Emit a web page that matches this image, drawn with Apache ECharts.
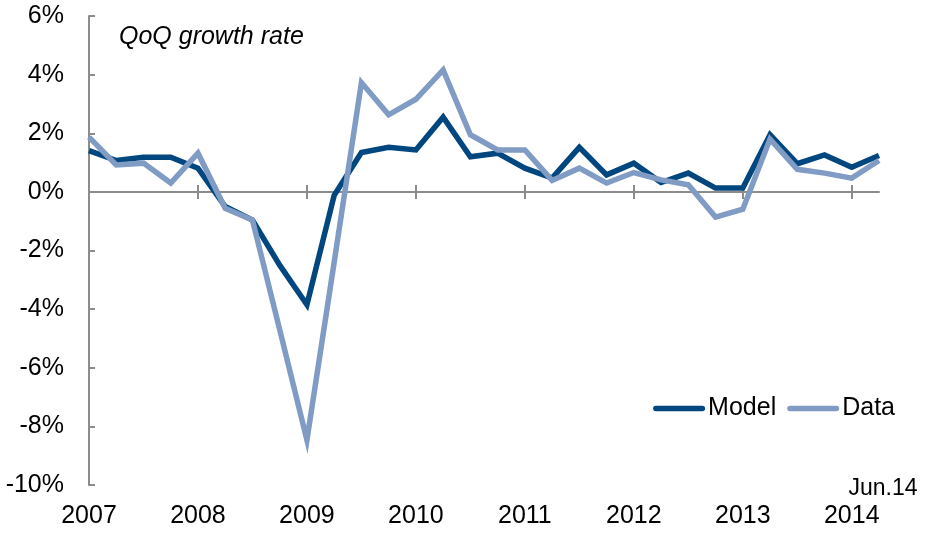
<!DOCTYPE html>
<html>
<head>
<meta charset="utf-8">
<script src="https://cdn.jsdelivr.net/npm/echarts@6/dist/echarts.min.js"></script>
<style>
  html, body { margin: 0; padding: 0; background: #fff; }
  #chart { width: 925px; height: 534px; }
</style>
</head>
<body>
<div id="chart"></div>
<script>
// data
const years = ['2007', '2008', '2009', '2010', '2011', '2012', '2013', '2014'];
const quarterNames = ['Q1', 'Q2', 'Q3', 'Q4'];
const lastLabel = 'Jun.14';
const model = [1.41, 1.07, 1.18, 1.18, 0.81, -0.5, -0.96, -2.5, -3.85, -0.12,
  1.34, 1.52, 1.43, 2.55, 1.2, 1.32, 0.81, 0.47, 1.52, 0.58,
  0.98, 0.32, 0.64, 0.13, 0.13, 1.95, 0.96, 1.26, 0.84, 1.24];
const actual = [1.87, 0.92, 0.98, 0.3, 1.32, -0.56, -0.96, -4.7, -8.46, -2.4,
  3.73, 2.63, 3.16, 4.16, 1.95, 1.43, 1.43, 0.39, 0.81, 0.3,
  0.66, 0.41, 0.24, -0.86, -0.59, 1.8, 0.77, 0.64, 0.47, 1.07];

// quarterly categories, 2007Q1 .. 2014Q2
const categories = years
  .flatMap(y => quarterNames.map(q => y + q))
  .slice(0, model.length);

// styles
const font = 'Liberation Sans, Arial, sans-serif';
const axisGray = '#8c8c8c';
const colors = ['#00467f', '#809bc4'];

const baseX = {
  type: 'category',
  data: categories,
  boundaryGap: false,
  splitLine: { show: false },
};

const chart = echarts.init(document.getElementById('chart'), null, { renderer: 'canvas' });

const option = {
  animation: false,
  textStyle: { fontFamily: font },
  grid: { left: 89, right: 46, top: 16, bottom: 49, containLabel: false },
  title: {
    text: 'QoQ growth rate',
    left: 119,
    top: 25,
    padding: 0,
    textStyle: { fontFamily: font, fontStyle: 'italic', fontWeight: 'normal', fontSize: 25, color: '#000' },
  },
  legend: {
    data: ['Model', 'Data'],
    right: 25,
    top: 391,
    itemWidth: 52,
    itemHeight: 6,
    itemGap: 11,
    icon: 'path://M3,0 h50 a3,3 0 0 1 0,6 h-50 a3,3 0 0 1 0,-6z',
    textStyle: { fontFamily: font, fontSize: 25, color: '#000', padding: [0, 0, 0, -2] },
  },
  xAxis: [
    // axis line at zero, ticks below
    Object.assign({}, baseX, {
      position: 'bottom',
      axisLine: { onZero: true, onZeroAxisIndex: 0, lineStyle: { color: axisGray, width: 2 } },
      axisTick: { interval: 3, length: 7, lineStyle: { color: axisGray, width: 2 } },
      axisLabel: { show: false },
    }),
    // ticks above the zero line
    Object.assign({}, baseX, {
      position: 'top',
      axisLine: { show: false, onZero: true, onZeroAxisIndex: 0 },
      axisTick: { interval: 3, length: 7, lineStyle: { color: axisGray, width: 2 } },
      axisLabel: { show: false },
    }),
    // year labels at the bottom
    Object.assign({}, baseX, {
      position: 'bottom',
      axisLine: { show: false, onZero: false },
      axisTick: { show: false },
      axisLabel: {
        interval: 3,
        margin: 19,
        fontSize: 25,
        color: '#000',
        fontFamily: font,
        formatter: v => v.slice(0, 4),
      },
    }),
    // last observation label
    Object.assign({}, baseX, {
      position: 'bottom',
      offset: -26,
      axisLine: { show: false, onZero: false },
      axisTick: { show: false },
      axisLabel: {
        interval: i => i === categories.length - 1,
        margin: 18,
        fontSize: 23,
        color: '#000',
        fontFamily: font,
        padding: [0, 0, 0, 8],
        formatter: () => lastLabel,
      },
    }),
  ],
  yAxis: {
    type: 'value',
    min: -10,
    max: 6,
    interval: 2,
    splitLine: { show: false },
    axisLine: { show: true, lineStyle: { color: axisGray, width: 2 } },
    axisTick: { show: true, inside: true, length: 6, lineStyle: { color: axisGray, width: 2 } },
    axisLabel: {
      margin: 25,
      fontSize: 25,
      color: '#000',
      fontFamily: font,
      formatter: '{value}%',
    },
  },
  series: [
    {
      name: 'Model',
      type: 'line',
      data: model,
      showSymbol: false,
      symbol: 'none',
      lineStyle: { color: colors[0], width: 5.5, join: 'miter' },
      itemStyle: { color: colors[0] },
    },
    {
      name: 'Data',
      type: 'line',
      data: actual,
      showSymbol: false,
      symbol: 'none',
      lineStyle: { color: colors[1], width: 5.5, join: 'miter' },
      itemStyle: { color: colors[1] },
    },
  ],
};

chart.setOption(option);
</script>
</body>
</html>
